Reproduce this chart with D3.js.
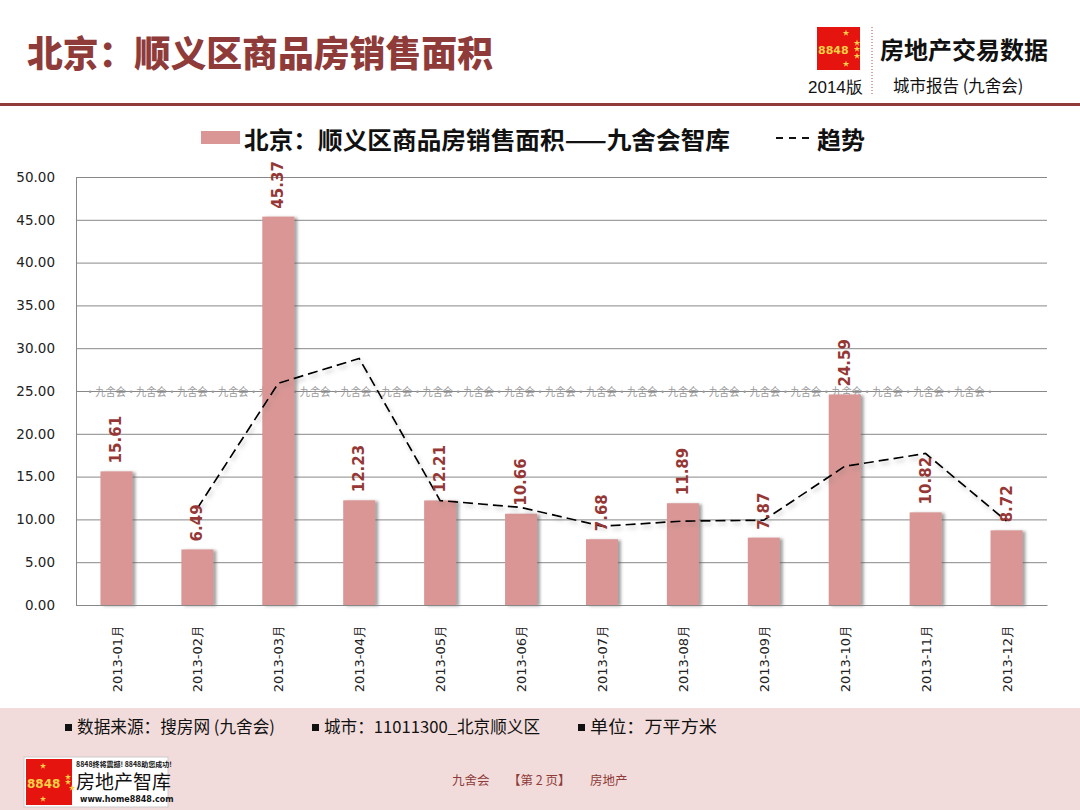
<!DOCTYPE html>
<html>
<head>
<meta charset="utf-8">
<script src="https://d3js.org/d3.v7.min.js"></script>
<style>
  body { margin: 0; background: #fff; }
  svg { display: block; }
</style>
</head>
<body>
<svg id="chart"></svg>
<script>
const months = ["2013-01月", "2013-02月", "2013-03月", "2013-04月", "2013-05月", "2013-06月",
                "2013-07月", "2013-08月", "2013-09月", "2013-10月", "2013-11月", "2013-12月"];
const areaValues = [15.61, 6.49, 45.37, 12.23, 12.21, 10.66, 7.68, 11.89, 7.87, 24.59, 10.82, 8.72];
const trendValues = [null, 11.3, 25.9, 28.8, 12.2, 11.4, 9.2, 9.8, 9.9, 16.2, 17.7, 9.8];
const yTicks = [0, 5, 10, 15, 20, 25, 30, 35, 40, 45, 50];

const pageTitle = "北京：顺义区商品房销售面积";
const seriesName = "北京：顺义区商品房销售面积——九舍会智库";
const trendName = "趋势";
const footerItems = ["数据来源：搜房网 (九舍会)", "城市：11011300_北京顺义区", "单位：万平方米"];

const W = 1080, H = 810;
const darkRed = "#8E3B3A";
const barColor = "#D99694";
const cjk = "'Noto Sans CJK SC', 'Noto Sans', sans-serif";

const svg = d3.select("#chart").attr("width", W).attr("height", H);

const defs = svg.append("defs");
const barShadow = defs.append("filter").attr("id", "barShadow")
    .attr("x", "-20%").attr("y", "-10%").attr("width", "150%").attr("height", "120%");
barShadow.append("feDropShadow")
    .attr("dx", 3).attr("dy", 1).attr("stdDeviation", 1.6)
    .attr("flood-color", "#555").attr("flood-opacity", 0.55);
const lineShadow = defs.append("filter").attr("id", "lineShadow")
    .attr("x", "-10%").attr("y", "-20%").attr("width", "120%").attr("height", "140%");
lineShadow.append("feDropShadow")
    .attr("dx", 2).attr("dy", 3).attr("stdDeviation", 2)
    .attr("flood-color", "#777").attr("flood-opacity", 0.45);

// header
svg.append("text")
    .attr("x", 27).attr("y", 67)
    .attr("textLength", 466).attr("lengthAdjust", "spacingAndGlyphs")
    .style("font-family", cjk).style("font-weight", 900).style("font-size", "36px")
    .style("fill", darkRed)
    .text(pageTitle);

svg.append("rect").attr("x", 0).attr("y", 103).attr("width", W).attr("height", 3).attr("fill", darkRed);

// top-right badge
const badge = svg.append("g");
badge.append("rect").attr("x", 817).attr("y", 27).attr("width", 43).attr("height", 43).attr("fill", "#E5140F");
badge.append("text").attr("x", 818).attr("y", 54)
    .style("font-family", "'DejaVu Sans', sans-serif").style("font-weight", 700).style("font-size", "11px")
    .style("fill", "#F7D046").text("8848");
const star = d3.symbol().type(d3.symbolStar).size(14);
[[846, 33], [857, 43], [857, 56], [846, 64], [857, 49]].forEach(p => {
    badge.append("path").attr("d", star).attr("transform", `translate(${p[0]},${p[1]})`).attr("fill", "#F7D046");
});
badge.append("line").attr("x1", 872).attr("x2", 872).attr("y1", 27).attr("y2", 96)
    .attr("stroke", "#B05050").attr("stroke-width", 1).attr("stroke-dasharray", "1,2");
badge.append("text").attr("x", 880).attr("y", 59)
    .style("font-family", cjk).style("font-weight", 700).style("font-size", "24px").style("fill", "#111")
    .text("房地产交易数据");
badge.append("text").attr("x", 808).attr("y", 93)
    .style("font-family", "'Liberation Sans', sans-serif").style("font-size", "17px").style("fill", "#111")
    .text("2014版");
badge.append("text").attr("x", 893).attr("y", 92)
    .style("font-family", cjk).style("font-size", "16.5px").style("fill", "#111")
    .text("城市报告 (九舍会)");

// chart
const margin = {top: 177, left: 76, right: W - 1047, bottom: H - 605};
const xc = d3.scalePoint().domain(months).range([margin.left, W - margin.right]).padding(0.5);
const y = d3.scaleLinear().domain([0, 50]).range([H - margin.bottom, margin.top]);

const yAxis = svg.append("g")
    .attr("transform", `translate(${margin.left},0)`)
    .call(d3.axisLeft(y).tickValues(yTicks).tickFormat(d3.format(".2f"))
        .tickSize(-(W - margin.right - margin.left)).tickPadding(21));
yAxis.select(".domain").attr("stroke", "#888");
yAxis.selectAll(".tick line").attr("stroke", "#888");
yAxis.selectAll(".tick text")
    .style("font-family", "'DejaVu Sans', sans-serif").style("font-size", "13.5px").style("fill", "#222");

// watermark
svg.append("text")
    .attr("x", 85).attr("y", 396)
    .attr("textLength", 910).attr("lengthAdjust", "spacingAndGlyphs")
    .style("font-family", cjk).style("font-size", "11.5px").style("fill", "#9a9a9a")
    .text("·九舍会".repeat(22) + "·");

svg.append("g").selectAll("rect")
    .data(areaValues)
    .join("rect")
        .attr("x", (d, i) => xc(months[i]) - 16)
        .attr("width", 32)
        .attr("y", d => y(d))
        .attr("height", d => y(0) - y(d))
        .attr("fill", barColor)
        .attr("filter", "url(#barShadow)");

const xAxis = svg.append("g")
    .attr("transform", `translate(0,${y(0)})`)
    .call(d3.axisBottom(xc).tickSize(0).tickPadding(8));
xAxis.select(".domain").attr("stroke", "#888");
xAxis.selectAll(".tick text")
    .attr("transform", "rotate(-90)")
    .attr("x", -20).attr("y", 0).attr("dy", "0.35em")
    .style("text-anchor", "end")
    .style("font-family", "'DejaVu Sans', sans-serif").style("font-size", "13px").style("fill", "#222");

const trendLine = d3.line()
    .defined(d => d != null)
    .x((d, i) => xc(months[i]))
    .y(d => y(d));

svg.append("path")
    .datum(trendValues)
    .attr("d", trendLine)
    .attr("fill", "none")
    .attr("stroke", "#000")
    .attr("stroke-width", 1.7)
    .attr("stroke-dasharray", "10,5")
    .attr("filter", "url(#lineShadow)");

svg.append("g").selectAll("text")
    .data(areaValues)
    .join("text")
        .attr("transform", (d, i) => `translate(${xc(months[i]) + 5},${y(d) - 8}) rotate(-90)`)
        .style("font-family", "'DejaVu Sans', sans-serif").style("font-weight", 700).style("font-size", "15px")
        .style("fill", "#953735")
        .text(d => d.toFixed(2));

// legend
const legend = svg.append("g");
legend.append("rect").attr("x", 201).attr("y", 131).attr("width", 39).attr("height", 13).attr("fill", barColor);
legend.append("text").attr("x", 244).attr("y", 149)
    .attr("textLength", 486).attr("lengthAdjust", "spacingAndGlyphs")
    .style("font-family", cjk).style("font-weight", 700).style("font-size", "24px").style("fill", "#111")
    .text(seriesName);
legend.append("line").attr("x1", 776).attr("x2", 812).attr("y1", 138).attr("y2", 138)
    .attr("stroke", "#111").attr("stroke-width", 1.8).attr("stroke-dasharray", "7,6");
legend.append("text").attr("x", 817).attr("y", 149)
    .style("font-family", cjk).style("font-weight", 700).style("font-size", "24px").style("fill", "#111")
    .text(trendName);

// footer
svg.append("rect").attr("x", 0).attr("y", 708).attr("width", W).attr("height", H - 708).attr("fill", "#F2DCDB");
const footX = [65, 312, 578];
const footW = [198, 216, 127];
footerItems.forEach((t, i) => {
    svg.append("rect").attr("x", footX[i]).attr("y", 724).attr("width", 7).attr("height", 7).attr("fill", "#111");
    svg.append("text").attr("x", footX[i] + 12).attr("y", 733)
        .attr("textLength", footW[i]).attr("lengthAdjust", "spacingAndGlyphs")
        .style("font-family", cjk).style("font-size", "16.5px").style("fill", "#111")
        .text(t);
});

// bottom-left logo
const logo = svg.append("g");
logo.append("rect").attr("x", 24).attr("y", 757).attr("width", 144).attr("height", 50).attr("fill", "#fff").attr("stroke", "#ccc");
logo.append("rect").attr("x", 26).attr("y", 759).attr("width", 46).attr("height", 46).attr("fill", "#E5140F");
logo.append("text").attr("x", 27).attr("y", 788)
    .style("font-family", "'DejaVu Sans', sans-serif").style("font-weight", 700).style("font-size", "12px")
    .style("fill", "#F7D046").text("8848");
[[43, 766], [68, 777], [72, 788], [68, 782], [43, 799]].forEach(p => {
    logo.append("path").attr("d", d3.symbol().type(d3.symbolStar).size(12)).attr("transform", `translate(${p[0]},${p[1]})`).attr("fill", "#F7D046");
});
logo.append("text").attr("x", 76).attr("y", 767)
    .style("font-family", cjk).style("font-weight", 700).style("font-size", "7px").style("fill", "#111")
    .text("8848终将震撼! 8848助您成功!");
logo.append("text").attr("x", 76).attr("y", 789)
    .style("font-family", cjk).style("font-size", "19px").style("fill", "#111")
    .text("房地产智库");
logo.append("text").attr("x", 80).attr("y", 802)
    .style("font-family", "'DejaVu Sans', sans-serif").style("font-weight", 700).style("font-size", "8px").style("fill", "#111")
    .text("www.home8848.com");

// page marker
const pageMark = svg.append("text").attr("x", 452).attr("y", 785)
    .style("font-family", "'Noto Sans CJK SC', serif").style("font-size", "12.5px").style("fill", darkRed);
pageMark.append("tspan").text("九舍会");
pageMark.append("tspan").attr("x", 508).text("【第 2 页】");
pageMark.append("tspan").attr("x", 590).text("房地产");
</script>
</body>
</html>
